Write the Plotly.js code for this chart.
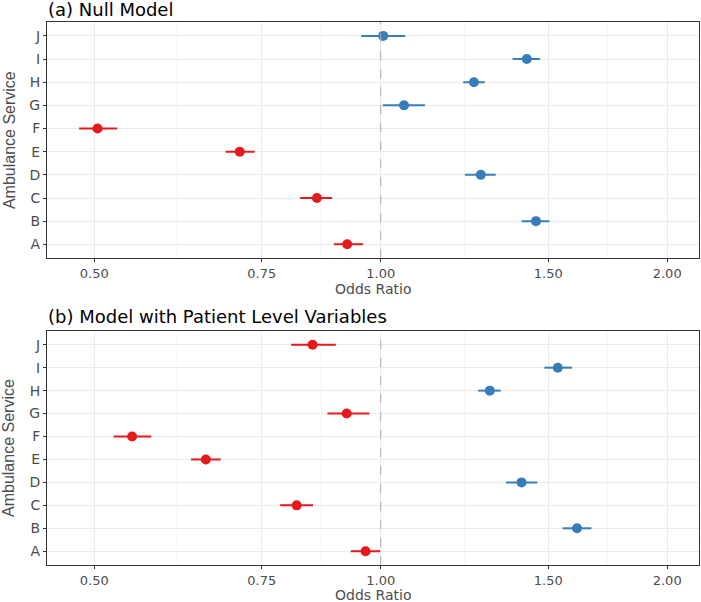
<!DOCTYPE html>
<html>
<head>
<meta charset="utf-8">
<script src="https://cdn.plot.ly/plotly-3.0.1.min.js"></script>
<style>
  html, body { margin: 0; padding: 0; background: #fff; }
  #myDiv { width: 701px; height: 602px; }
</style>
</head>
<body>
<div id="myDiv"></div>
<script>
var services = ['A', 'B', 'C', 'D', 'E', 'F', 'G', 'H', 'I', 'J'];

// (a) null model: odds ratio with 95% interval
var nullOR = [0.922, 1.456, 0.857, 1.274, 0.711, 0.504, 1.058, 1.253, 1.424, 1.006];
var nullLo = [0.893, 1.406, 0.823, 1.226, 0.687, 0.482, 1.005, 1.221, 1.376, 0.954];
var nullHi = [0.958, 1.504, 0.889, 1.321, 0.737, 0.5285, 1.113, 1.286, 1.470, 1.061];

// (b) model with patient level variables
var patOR = [0.964, 1.608, 0.816, 1.406, 0.655, 0.548, 0.921, 1.302, 1.535, 0.848];
var patLo = [0.930, 1.553, 0.784, 1.354, 0.632, 0.524, 0.879, 1.266, 1.486, 0.805];
var patHi = [0.999, 1.665, 0.849, 1.461, 0.679, 0.574, 0.973, 1.337, 1.589, 0.897];

var xTicks = [0.5, 0.75, 1, 1.5, 2];
var xTickText = ['0.50', '0.75', '1.00', '1.50', '2.00'];

var red = '#E41A1C', blue = '#377EB8';

function range(n) {
    var r = [];
    for (var i = 0; i < n; i++) r.push(i);
    return r;
}

// error bars take one colour per trace, so one trace per colour
function split(or, lo, hi, xa, ya) {
    var out = [];
    [red, blue].forEach(function (c) {
        var idx = range(or.length).filter(function (i) {
            return (or[i] < 1 ? red : blue) == c;
        });
        out.push({
            x: idx.map(function (i) { return or[i]; }),
            y: idx.map(function (i) { return services[i]; }),
            xaxis: xa,
            yaxis: ya,
            type: 'scatter',
            mode: 'markers',
            marker: { color: c, size: 10 },
            error_x: {
                type: 'data',
                symmetric: false,
                array: idx.map(function (i) { return hi[i] - or[i]; }),
                arrayminus: idx.map(function (i) { return or[i] - lo[i]; }),
                width: 0,
                thickness: 2,
                color: c
            },
            showlegend: false,
            hoverinfo: 'x+y'
        });
    });
    return out;
}

var data = split(nullOR, nullLo, nullHi, 'x', 'y').concat(split(patOR, patLo, patHi, 'x2', 'y2'));

var wide = 'DejaVu Sans, Verdana, sans-serif';
var tickFont = { family: wide, size: 14, color: '#4D4D4D' };

function xAxis(anchor) {
    return {
        type: 'log',
        anchor: anchor,
        range: [Math.log10(0.446), Math.log10(2.16)],
        tickvals: xTicks,
        ticktext: xTickText,
        ticks: 'outside',
        ticklen: 3,
        tickcolor: '#333',
        tickfont: { family: wide, size: 13, color: '#4D4D4D' },
        showgrid: true,
        gridcolor: '#EBEBEB',
        minor: { showgrid: true, gridcolor: '#F3F3F3', tickvals: [0.612, 0.866, 1.2247, 1.732] },
        zeroline: false,
        showline: true,
        linecolor: '#333',
        linewidth: 1,
        mirror: true
    };
}

function yAxis(anchor, domain) {
    return {
        type: 'category',
        categoryarray: services,
        anchor: anchor,
        domain: domain,
        range: [-0.6, 9.6],
        ticks: 'outside',
        ticklen: 3,
        tickcolor: '#333',
        tickfont: tickFont,
        showgrid: true,
        gridcolor: '#EBEBEB',
        zeroline: false,
        showline: true,
        linecolor: '#333',
        linewidth: 1,
        mirror: true
    };
}

var titleFont = { family: wide, size: 18, color: '#000' };
var xTitleFont = { family: wide, size: 14, color: '#4D4D4D' };
var yTitleFont = { family: 'Liberation Sans, Arial, sans-serif', size: 16, color: '#4D4D4D' };

function note(text, x, y, xshift, yshift, font, extra) {
    var a = { text: text, xref: 'paper', yref: 'paper', x: x, y: y, xshift: xshift, yshift: yshift,
              xanchor: 'center', yanchor: 'middle', showarrow: false, font: font, borderpad: 0 };
    for (var k in extra) a[k] = extra[k];
    return a;
}

var topDom = [0.565, 1], botDom = [0, 0.431];

var layout = {
    width: 701,
    height: 602,
    margin: { l: 47, r: 2, t: 22, b: 37 },
    paper_bgcolor: '#fff',
    plot_bgcolor: '#fff',
    xaxis: xAxis('y'),
    yaxis: yAxis('x', topDom),
    xaxis2: xAxis('y2'),
    yaxis2: yAxis('x2', botDom),
    shapes: [
        { type: 'line', xref: 'x', yref: 'y domain', x0: 1, x1: 1, y0: 0, y1: 1,
          line: { color: '#AAAAAA', width: 1, dash: 'dash' }, layer: 'above' },
        { type: 'line', xref: 'x2', yref: 'y2 domain', x0: 1, x1: 1, y0: 0, y1: 1,
          line: { color: '#AAAAAA', width: 1, dash: 'dash' }, layer: 'above' }
    ],
    annotations: [
        note('(a) Null Model', 0, 1, 0, 1, titleFont, { xanchor: 'left', yanchor: 'bottom' }),
        note('(b) Model with Patient Level Variables', 0, botDom[1], 0, 3, titleFont, { xanchor: 'left', yanchor: 'bottom' }),
        note('Ambulance Service', 0, (topDom[0] + topDom[1]) / 2, -38, 0, yTitleFont, { textangle: -90 }),
        note('Ambulance Service', 0, (botDom[0] + botDom[1]) / 2, -38, 0, yTitleFont, { textangle: -90 }),
        note('Odds Ratio', 0.5, topDom[0], 0, -31, xTitleFont, {}),
        note('Odds Ratio', 0.5, botDom[0], 0, -30, xTitleFont, {})
    ]
};

var config = { displayModeBar: false, staticPlot: true };

Plotly.newPlot('myDiv', data, layout, config);
</script>
</body>
</html>
